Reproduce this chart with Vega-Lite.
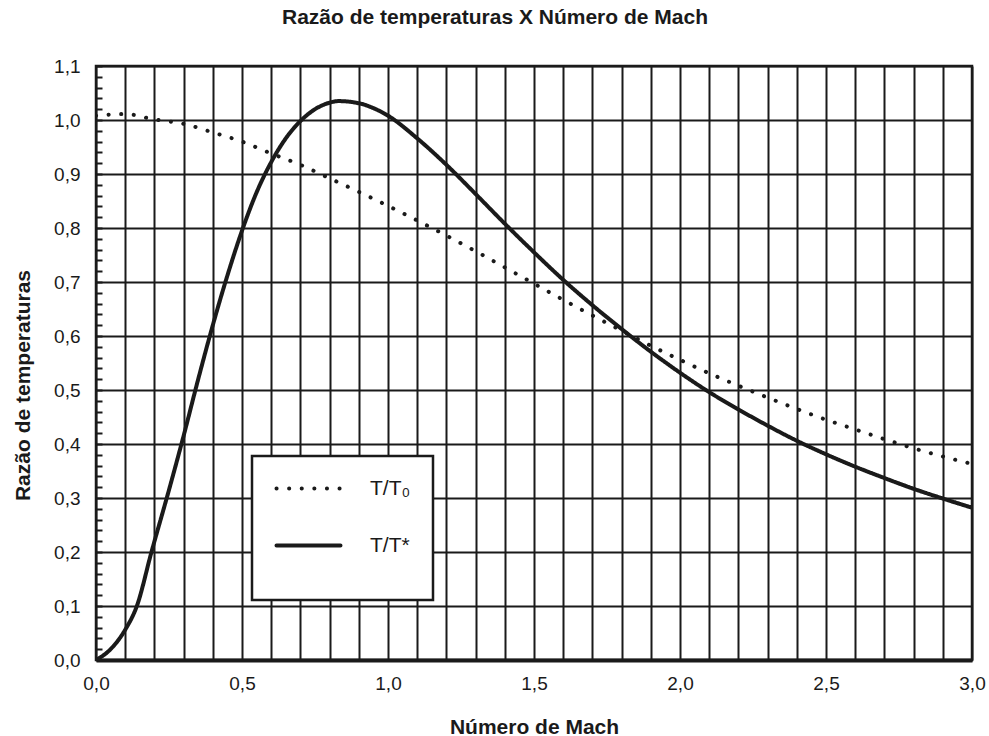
{
  "$schema": "https://vega.github.io/schema/vega-lite/v6.json",
  "autosize": "none",
  "width": 876,
  "height": 594,
  "padding": {"left": 96, "top": 66, "right": 17, "bottom": 76},
  "background": "white",
  "title": {
    "text": "Razão de temperaturas X Número de Mach",
    "font": "Liberation Sans",
    "fontSize": 21,
    "fontWeight": "bold",
    "color": "#1a1a1a",
    "anchor": "middle",
    "offset": 29,
    "dx": -39
  },
  "config": {
    "view": {"stroke": "#1a1a1a", "strokeWidth": 2.5},
    "axis": {
      "labelFont": "Liberation Sans",
      "labelFontSize": 19,
      "labelColor": "#1a1a1a",
      "titleFont": "Liberation Sans",
      "titleFontSize": 21,
      "titleFontWeight": "bold",
      "titleColor": "#1a1a1a",
      "gridColor": "#1a1a1a",
      "gridWidth": 2,
      "labelOverlap": false,
      "labelFlush": false
    }
  },
  "data": {
    "values": [
      {"M": 0.0, "v": 1.008, "serie": "T/T₀"},
      {"M": 0.1, "v": 1.011, "serie": "T/T₀"},
      {"M": 0.2, "v": 1.001, "serie": "T/T₀"},
      {"M": 0.3, "v": 0.993, "serie": "T/T₀"},
      {"M": 0.4, "v": 0.977, "serie": "T/T₀"},
      {"M": 0.5, "v": 0.96, "serie": "T/T₀"},
      {"M": 0.6, "v": 0.938, "serie": "T/T₀"},
      {"M": 0.7, "v": 0.917, "serie": "T/T₀"},
      {"M": 0.8, "v": 0.892, "serie": "T/T₀"},
      {"M": 0.9, "v": 0.867, "serie": "T/T₀"},
      {"M": 1.0, "v": 0.841, "serie": "T/T₀"},
      {"M": 1.1, "v": 0.814, "serie": "T/T₀"},
      {"M": 1.2, "v": 0.786, "serie": "T/T₀"},
      {"M": 1.3, "v": 0.757, "serie": "T/T₀"},
      {"M": 1.4, "v": 0.727, "serie": "T/T₀"},
      {"M": 1.5, "v": 0.697, "serie": "T/T₀"},
      {"M": 1.6, "v": 0.667, "serie": "T/T₀"},
      {"M": 1.7, "v": 0.638, "serie": "T/T₀"},
      {"M": 1.8, "v": 0.61, "serie": "T/T₀"},
      {"M": 1.9, "v": 0.582, "serie": "T/T₀"},
      {"M": 2.0, "v": 0.556, "serie": "T/T₀"},
      {"M": 2.1, "v": 0.531, "serie": "T/T₀"},
      {"M": 2.2, "v": 0.508, "serie": "T/T₀"},
      {"M": 2.3, "v": 0.486, "serie": "T/T₀"},
      {"M": 2.4, "v": 0.465, "serie": "T/T₀"},
      {"M": 2.5, "v": 0.445, "serie": "T/T₀"},
      {"M": 2.6, "v": 0.427, "serie": "T/T₀"},
      {"M": 2.7, "v": 0.409, "serie": "T/T₀"},
      {"M": 2.8, "v": 0.392, "serie": "T/T₀"},
      {"M": 2.9, "v": 0.377, "serie": "T/T₀"},
      {"M": 3.0, "v": 0.363, "serie": "T/T₀"},
      {"M": 0.0, "v": 0.0, "serie": "T/T*"},
      {"M": 0.05, "v": 0.02, "serie": "T/T*"},
      {"M": 0.1, "v": 0.056, "serie": "T/T*"},
      {"M": 0.14, "v": 0.1, "serie": "T/T*"},
      {"M": 0.19, "v": 0.2, "serie": "T/T*"},
      {"M": 0.25, "v": 0.315, "serie": "T/T*"},
      {"M": 0.3, "v": 0.415, "serie": "T/T*"},
      {"M": 0.35, "v": 0.52, "serie": "T/T*"},
      {"M": 0.4, "v": 0.62, "serie": "T/T*"},
      {"M": 0.45, "v": 0.712, "serie": "T/T*"},
      {"M": 0.5, "v": 0.795, "serie": "T/T*"},
      {"M": 0.55, "v": 0.866, "serie": "T/T*"},
      {"M": 0.6, "v": 0.922, "serie": "T/T*"},
      {"M": 0.65, "v": 0.966, "serie": "T/T*"},
      {"M": 0.7, "v": 0.998, "serie": "T/T*"},
      {"M": 0.75, "v": 1.02, "serie": "T/T*"},
      {"M": 0.8, "v": 1.032, "serie": "T/T*"},
      {"M": 0.83, "v": 1.035, "serie": "T/T*"},
      {"M": 0.9, "v": 1.031, "serie": "T/T*"},
      {"M": 0.95, "v": 1.022, "serie": "T/T*"},
      {"M": 1.0, "v": 1.008, "serie": "T/T*"},
      {"M": 1.1, "v": 0.966, "serie": "T/T*"},
      {"M": 1.2, "v": 0.917, "serie": "T/T*"},
      {"M": 1.3, "v": 0.863, "serie": "T/T*"},
      {"M": 1.4, "v": 0.808, "serie": "T/T*"},
      {"M": 1.5, "v": 0.755, "serie": "T/T*"},
      {"M": 1.6, "v": 0.704, "serie": "T/T*"},
      {"M": 1.7, "v": 0.657, "serie": "T/T*"},
      {"M": 1.8, "v": 0.613, "serie": "T/T*"},
      {"M": 1.9, "v": 0.571, "serie": "T/T*"},
      {"M": 2.0, "v": 0.532, "serie": "T/T*"},
      {"M": 2.1, "v": 0.496, "serie": "T/T*"},
      {"M": 2.2, "v": 0.464, "serie": "T/T*"},
      {"M": 2.3, "v": 0.434, "serie": "T/T*"},
      {"M": 2.4, "v": 0.406, "serie": "T/T*"},
      {"M": 2.5, "v": 0.381, "serie": "T/T*"},
      {"M": 2.6, "v": 0.358, "serie": "T/T*"},
      {"M": 2.7, "v": 0.337, "serie": "T/T*"},
      {"M": 2.8, "v": 0.317, "serie": "T/T*"},
      {"M": 2.9, "v": 0.299, "serie": "T/T*"},
      {"M": 3.0, "v": 0.282, "serie": "T/T*"}
    ]
  },
  "mark": {
    "type": "line",
    "interpolate": "monotone",
    "strokeWidth": 4,
    "strokeCap": "round",
    "color": "#1a1a1a",
    "clip": true
  },
  "encoding": {
    "x": {
      "field": "M",
      "type": "quantitative",
      "scale": {"domain": [0, 3], "nice": false, "zero": false},
      "axis": {
        "title": "Número de Mach",
        "values": [0, 0.1, 0.2, 0.3, 0.4, 0.5, 0.6, 0.7, 0.8, 0.9, 1.0, 1.1, 1.2, 1.3, 1.4, 1.5, 1.6, 1.7, 1.8, 1.9, 2.0, 2.1, 2.2, 2.3, 2.4, 2.5, 2.6, 2.7, 2.8, 2.9, 3.0],
        "labelExpr": "abs(datum.value*2 - round(datum.value*2)) < 0.001 ? replace(format(datum.value, '.1f'), '.', ',') : ''",
        "ticks": false,
        "labelPadding": 14,
        "domain": true,
        "domainColor": "#1a1a1a",
        "domainWidth": 4,
        "grid": true,
        "titlePadding": 23
      }
    },
    "y": {
      "field": "v",
      "type": "quantitative",
      "scale": {"domain": [0, 1.1], "nice": false},
      "axis": {
        "title": "Razão de temperaturas",
        "values": [0, 0.02, 0.04, 0.06, 0.08, 0.1, 0.12, 0.14, 0.16, 0.18, 0.2, 0.22, 0.24, 0.26, 0.28, 0.3, 0.32, 0.34, 0.36, 0.38, 0.4, 0.42, 0.44, 0.46, 0.48, 0.5, 0.52, 0.54, 0.56, 0.58, 0.6, 0.62, 0.64, 0.66, 0.68, 0.7, 0.72, 0.74, 0.76, 0.78, 0.8, 0.82, 0.84, 0.86, 0.88, 0.9, 0.92, 0.94, 0.96, 0.98, 1.0, 1.02, 1.04, 1.06, 1.08, 1.1],
        "labelExpr": "abs(datum.value*10 - round(datum.value*10)) < 0.001 ? replace(format(datum.value, '.1f'), '.', ',') : ''",
        "ticks": true,
        "tickSize": -6,
        "tickWidth": 2,
        "tickColor": "#1a1a1a",
        "labelPadding": 22,
        "domain": false,
        "grid": true,
        "gridOpacity": {"condition": {"test": "abs(datum.value*10 - round(datum.value*10)) < 0.001", "value": 1}, "value": 0},
        "titlePadding": 20,
        "titleY": 319
      }
    },
    "strokeDash": {
      "field": "serie",
      "type": "nominal",
      "scale": {"domain": ["T/T₀", "T/T*"], "range": [[0.1, 12.5], [1, 0]]},
      "legend": {
        "title": " ",
        "titleOrient": "bottom",
        "titleFontSize": 10,
        "titlePadding": 12,
        "orient": "none",
        "legendX": 156,
        "legendY": 390,
        "direction": "vertical",
        "symbolType": "M-4,0L4,0",
        "symbolSize": 256,
        "symbolOffset": 24,
        "symbolStrokeWidth": 4,
        "symbolStrokeColor": "#1a1a1a",
        "labelFont": "Liberation Sans",
        "labelFontSize": 21,
        "labelColor": "#1a1a1a",
        "labelOffset": 51,
        "padding": 22,
        "rowPadding": 35,
        "fillColor": "white",
        "strokeColor": "#1a1a1a",
        "encode": {
          "symbols": {"update": {"strokeCap": {"value": "round"}}},
          "legend": {"update": {"strokeWidth": {"value": 2.5}}}
        }
      }
    }
  }
}
